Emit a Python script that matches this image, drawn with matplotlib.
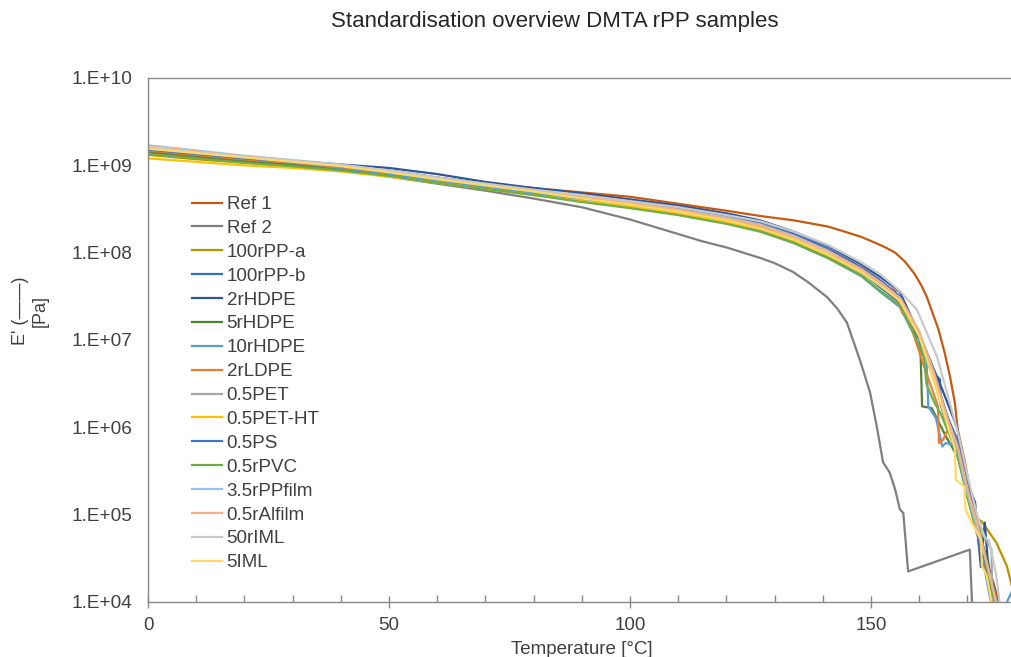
import numpy as np
import matplotlib
matplotlib.use("Agg")
import matplotlib.pyplot as plt
from matplotlib.ticker import FixedLocator, NullFormatter, NullLocator

plt.rcParams['font.family'] = ['Liberation Sans', 'DejaVu Sans']

# ---------------- data (log10 of E' in Pa) ----------------
T_PLATEAU = [0, 10, 20, 30, 40, 50, 60, 70, 80, 90, 100, 110, 120, 127, 134, 141, 148]

series_names = ["Ref 1", "Ref 2", "100rPP-a", "100rPP-b", "2rHDPE", "5rHDPE", "10rHDPE",
                "2rLDPE", "0.5PET", "0.5PET-HT", "0.5PS", "0.5rPVC", "3.5rPPfilm",
                "0.5rAlfilm", "50rIML", "5IML"]
series_colors = ["#C55A11", "#7F7F7F", "#BF9000", "#2E75B6", "#2F5597", "#548235", "#5B9BD5",
                 "#ED7D31", "#A5A5A5", "#FFC000", "#4472C4", "#70AD47", "#9DC3E6",
                 "#F4B183", "#C9C9C9", "#FFD966"]

# Ref 1
ref1_T = [0, 10, 20, 30, 40, 50, 60, 70, 80, 90, 100, 110, 120, 127, 134, 141, 144, 148, 151, 153,
          155, 157, 159, 160.5, 161.6, 164, 165.3, 166.4, 167.4, 168, 169.5, 170.5, 171.6, 173.5,
          175.5, 177]
ref1_E = [9.16, 9.11, 9.06, 9.02, 8.97, 8.91, 8.85, 8.79, 8.74, 8.69, 8.64, 8.56, 8.48, 8.42,
          8.37, 8.30, 8.25, 8.18, 8.11, 8.06, 8.00, 7.90, 7.76, 7.62, 7.49, 7.12, 6.85, 6.58,
          6.28, 5.97, 5.60, 5.29, 4.94, 4.55, 4.20, 3.90]

# Ref 2
ref2_T = [0, 10, 20, 30, 40, 50, 60, 70, 80, 90, 100, 106, 115, 120, 127, 130, 133.8, 137, 140.9,
          143, 145, 147.7, 149.8, 151.2, 152.5, 153.9, 155, 156, 156.7, 157.7, 170.5, 171.1]
ref2_E = [9.17, 9.12, 9.06, 9.01, 8.95, 8.87, 8.79, 8.71, 8.62, 8.52, 8.38, 8.28, 8.13, 8.06,
          7.94, 7.88, 7.78, 7.66, 7.49, 7.36, 7.20, 6.77, 6.40, 6.01, 5.60, 5.48, 5.29, 5.06,
          5.02, 4.35, 4.60, 3.80]

# 100rPP-a
ppa_plateau = [9.12, 9.07, 9.03, 8.99, 8.95, 8.89, 8.81, 8.74, 8.67, 8.60, 8.53, 8.45, 8.35, 8.27, 8.14, 7.98, 7.78]
ppa_tail_T = [152, 156, 160, 163, 166, 168, 170, 171.5, 173, 176, 178.2, 179.5]
ppa_tail_E = [7.62, 7.45, 7.03, 6.55, 6.00, 5.72, 5.20, 4.97, 4.92, 4.68, 4.41, 4.12]

# 100rPP-b
ppb_plateau = [9.19, 9.14, 9.09, 9.05, 8.99, 8.92, 8.84, 8.77, 8.70, 8.62, 8.55, 8.47, 8.37, 8.28, 8.15, 7.98, 7.78]
ppb_tail_T = [152, 156, 160, 163, 164.3, 164.5, 166, 168, 170, 172, 174, 175.3, 176.3]
ppb_tail_E = [7.60, 7.43, 7.02, 6.62, 6.55, 6.25, 5.98, 5.70, 5.25, 4.85, 4.45, 4.22, 3.90]

# 2rHDPE
hd2_plateau = [9.17, 9.13, 9.09, 9.05, 9.01, 8.97, 8.90, 8.81, 8.74, 8.68, 8.61, 8.54, 8.45, 8.37, 8.24, 8.08, 7.86]
hd2_tail_T = [152, 156, 160.5, 164.8, 167, 168, 168.5, 170.5, 171.6, 172.2, 172.8, 173.6, 174.2, 175, 176]
hd2_tail_E = [7.72, 7.55, 7.00, 6.43, 6.12, 5.97, 5.74, 5.29, 5.14, 4.75, 4.40, 4.91, 4.50, 4.20, 3.85]

# 5rHDPE
hd5_plateau = [9.14, 9.09, 9.04, 9.00, 8.95, 8.89, 8.81, 8.74, 8.67, 8.59, 8.52, 8.44, 8.34, 8.25, 8.12, 7.95, 7.74]
hd5_tail_T = [152, 156, 159, 160.2, 160.6, 162.6, 165.5, 168, 170.3, 172, 173, 174, 175.5, 176.5]
hd5_tail_E = [7.55, 7.38, 7.08, 7.00, 6.24, 6.22, 5.90, 5.66, 5.15, 4.78, 4.70, 4.50, 4.10, 3.85]

# 10rHDPE
hd10_plateau = [9.18, 9.13, 9.08, 9.03, 8.97, 8.90, 8.82, 8.75, 8.68, 8.60, 8.53, 8.45, 8.34, 8.25, 8.11, 7.94, 7.73]
hd10_tail_T = [152, 156, 159, 161.5, 161.9, 163.5, 164.8, 165.5, 167, 168.5, 170.5, 172.5, 174.5, 175.5, 177.5, 178.2, 179.5]
hd10_tail_E = [7.55, 7.38, 7.05, 6.78, 6.24, 6.10, 5.78, 5.82, 5.80, 5.60, 5.15, 4.70, 4.10, 3.85, 3.85, 4.00, 4.15]

# 2rLDPE
ld2_plateau = [9.17, 9.12, 9.07, 9.03, 8.98, 8.92, 8.85, 8.78, 8.71, 8.63, 8.56, 8.48, 8.38, 8.29, 8.15, 7.98, 7.78]
ld2_tail_T = [152.5, 155, 156.5, 157.5, 158.5, 161, 163.9, 164.1, 165, 165.6, 166.5, 168, 170, 172, 174, 175.5, 176.5]
ld2_tail_E = [7.62, 7.57, 7.31, 7.25, 7.12, 6.70, 6.24, 5.82, 5.86, 5.94, 6.00, 5.70, 5.22, 4.80, 4.35, 4.00, 3.85]

# 0.5PET
pet_plateau = [9.20, 9.15, 9.10, 9.05, 9.00, 8.94, 8.86, 8.79, 8.72, 8.65, 8.58, 8.50, 8.41, 8.33, 8.21, 8.05, 7.84]
pet_tail_T = [152, 156, 160, 163, 166, 168, 170, 172, 174, 175, 175.2]
pet_tail_E = [7.68, 7.50, 7.08, 6.65, 6.10, 5.80, 5.30, 4.95, 4.70, 4.60, 3.85]

# 0.5PET-HT
petht_plateau = [9.08, 9.04, 9.00, 8.97, 8.93, 8.87, 8.80, 8.73, 8.66, 8.59, 8.53, 8.45, 8.35, 8.27, 8.14, 7.97, 7.78]
petht_tail_T = [152, 156, 160, 163, 166, 168, 170, 172, 174, 175.5, 176.5]
petht_tail_E = [7.62, 7.45, 7.05, 6.60, 6.05, 5.75, 5.20, 4.80, 4.40, 4.05, 3.85]

# 0.5PS
ps_plateau = [9.18, 9.13, 9.08, 9.04, 8.99, 8.94, 8.86, 8.79, 8.72, 8.65, 8.59, 8.52, 8.43, 8.35, 8.22, 8.05, 7.83]
ps_tail_T = [152, 156, 160, 163, 166, 168, 170, 171.5, 172.5, 173.5, 175, 176.5]
ps_tail_E = [7.68, 7.50, 7.02, 6.60, 6.10, 5.85, 5.35, 5.05, 4.60, 4.50, 4.15, 3.85]

# 0.5rPVC
pvc_plateau = [9.13, 9.08, 9.03, 8.99, 8.94, 8.88, 8.80, 8.73, 8.66, 8.58, 8.51, 8.43, 8.33, 8.24, 8.11, 7.94, 7.74]
pvc_tail_T = [152, 156, 159, 161, 161.5, 163, 164.5, 166, 168, 170, 171.5, 172.5, 173.5, 175, 176.5]
pvc_tail_E = [7.56, 7.40, 7.06, 6.80, 6.50, 6.30, 6.15, 5.95, 5.68, 5.20, 4.90, 4.85, 4.55, 4.15, 3.85]

# 3.5rPPfilm
ppf_plateau = [9.23, 9.17, 9.11, 9.06, 9.01, 8.94, 8.86, 8.78, 8.71, 8.64, 8.57, 8.49, 8.40, 8.32, 8.19, 8.02, 7.81]
ppf_tail_T = [152, 156, 160, 163, 166, 168, 170, 172, 174, 176, 177.2]
ppf_tail_E = [7.65, 7.48, 7.06, 6.60, 6.05, 5.75, 5.25, 4.85, 4.45, 4.00, 3.85]

# 0.5rAlfilm
alf_plateau = [9.22, 9.16, 9.10, 9.05, 9.00, 8.93, 8.85, 8.78, 8.71, 8.64, 8.57, 8.49, 8.39, 8.31, 8.18, 8.02, 7.81]
alf_tail_T = [152, 156, 160, 163, 166, 168, 170, 172, 174, 175.5, 176.5]
alf_tail_E = [7.66, 7.48, 7.10, 6.62, 6.08, 5.78, 5.30, 4.90, 4.45, 4.10, 3.85]

# 50rIML
iml50_plateau = [9.21, 9.15, 9.10, 9.05, 9.00, 8.94, 8.86, 8.79, 8.72, 8.66, 8.59, 8.52, 8.43, 8.36, 8.24, 8.09, 7.89]
iml50_tail_T = [152, 156, 159.5, 163.7, 166, 168, 170, 172, 173.5, 174.5, 176, 177]
iml50_tail_E = [7.75, 7.56, 7.35, 6.81, 6.35, 5.95, 5.45, 5.00, 4.75, 4.70, 4.30, 3.85]

# 5IML
iml5_plateau = [9.19, 9.14, 9.09, 9.04, 8.99, 8.92, 8.84, 8.77, 8.70, 8.62, 8.55, 8.47, 8.37, 8.28, 8.15, 7.98, 7.78]
iml5_tail_T = [152, 156, 160, 163, 166, 167.4, 167.6, 169.4, 169.6, 171, 172.8, 173, 174, 175.5]
iml5_tail_E = [7.62, 7.45, 7.04, 6.55, 6.00, 5.76, 5.40, 5.32, 5.06, 4.90, 4.71, 4.41, 4.30, 3.85]

x_major_ticks = [0, 50, 100, 150]
y_tick_values = [1e4, 1e5, 1e6, 1e7, 1e8, 1e9, 1e10]
y_tick_labels = ["1.E+04", "1.E+05", "1.E+06", "1.E+07", "1.E+08", "1.E+09", "1.E+10"]

# ---------------- assemble ----------------
curves = [
    (ref1_T, ref1_E),
    (ref2_T, ref2_E),
    (T_PLATEAU + ppa_tail_T, ppa_plateau + ppa_tail_E),
    (T_PLATEAU + ppb_tail_T, ppb_plateau + ppb_tail_E),
    (T_PLATEAU + hd2_tail_T, hd2_plateau + hd2_tail_E),
    (T_PLATEAU + hd5_tail_T, hd5_plateau + hd5_tail_E),
    (T_PLATEAU + hd10_tail_T, hd10_plateau + hd10_tail_E),
    (T_PLATEAU + ld2_tail_T, ld2_plateau + ld2_tail_E),
    (T_PLATEAU + pet_tail_T, pet_plateau + pet_tail_E),
    (T_PLATEAU + petht_tail_T, petht_plateau + petht_tail_E),
    (T_PLATEAU + ps_tail_T, ps_plateau + ps_tail_E),
    (T_PLATEAU + pvc_tail_T, pvc_plateau + pvc_tail_E),
    (T_PLATEAU + ppf_tail_T, ppf_plateau + ppf_tail_E),
    (T_PLATEAU + alf_tail_T, alf_plateau + alf_tail_E),
    (T_PLATEAU + iml50_tail_T, iml50_plateau + iml50_tail_E),
    (T_PLATEAU + iml5_tail_T, iml5_plateau + iml5_tail_E),
]

W, H = 1011, 657
fig = plt.figure(figsize=(W / 100, H / 100), dpi=100)
ax_left, ax_right, ax_top, ax_bot = 148, 1015.6, 78, 602
ax = fig.add_axes([ax_left / W, 1 - ax_bot / H, (ax_right - ax_left) / W, (ax_bot - ax_top) / H])

for (t, le), name, col in zip(curves, series_names, series_colors):
    ax.plot(t, 10 ** np.array(le), color=col, lw=1.6, label=name, solid_joinstyle='round')

ax.set_yscale('log')
ax.set_xlim(0, 180)
ax.set_ylim(1e4, 1e10)

axis_col = '#898989'
for s in ['left', 'bottom', 'top']:
    ax.spines[s].set_color(axis_col)
    ax.spines[s].set_linewidth(1.0)
ax.spines['right'].set_visible(False)

ax.yaxis.set_major_locator(FixedLocator(y_tick_values))
ax.set_yticklabels(y_tick_labels)
ax.yaxis.set_minor_locator(NullLocator())
ax.tick_params(axis='y', which='both', length=0, labelsize=13.7, colors='#404040', pad=11)

ax.xaxis.set_major_locator(FixedLocator(x_major_ticks))
ax.xaxis.set_minor_locator(FixedLocator(np.arange(0, 181, 10)))
ax.xaxis.set_minor_formatter(NullFormatter())
ax.tick_params(axis='x', which='major', direction='inout', length=9, width=1, color=axis_col,
               labelsize=13.5, labelcolor='#404040', pad=6)
ax.tick_params(axis='x', which='minor', direction='in', length=5, width=1, color=axis_col)

ax.set_xlabel("Temperature [°C]", fontsize=13.5, color='#404040', labelpad=5)

fig.text(555 / W, 1 - 22 / H, "Standardisation overview DMTA rPP samples",
         ha='center', va='center', fontsize=16, color='#262626')
fig.text(30 / W, 1 - 311 / H, "E' (——)\n[Pa]", rotation=90, ha='center', va='center',
         fontsize=13, color='#404040', multialignment='center')

leg = ax.legend(loc='upper left',
                bbox_to_anchor=((192 - ax_left) / (ax_right - ax_left), (ax_bot - 196) / (ax_bot - ax_top)),
                frameon=False, fontsize=13.5, handlelength=1.6, handletextpad=0.25,
                labelspacing=0.36, borderaxespad=0, borderpad=0)
for txt in leg.get_texts():
    txt.set_color('#404040')

fig.savefig("out.png", dpi=100)
